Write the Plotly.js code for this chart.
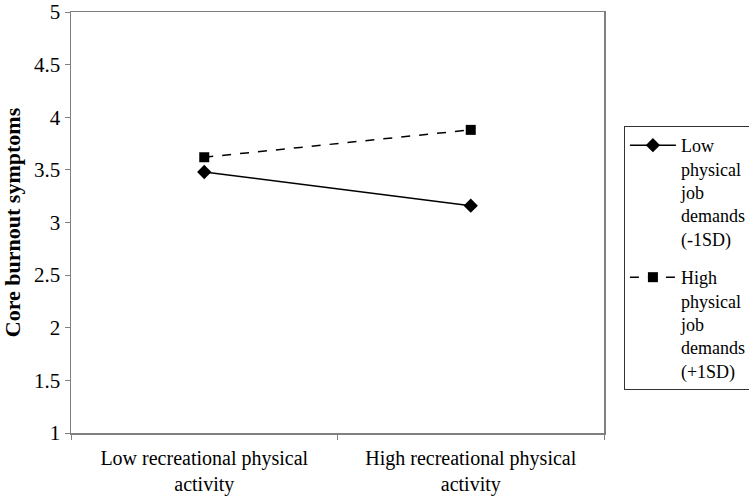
<!DOCTYPE html>
<html>
<head>
<meta charset="utf-8">
<script src="https://cdn.plot.ly/plotly-3.0.1.min.js"></script>
<style>html,body{margin:0;padding:0;background:#fff;}#chart{width:749px;height:496px;}</style>
</head>
<body>
<div id="chart"></div>
<script>
const categories = ["Low recreational physical<br>activity", "High recreational physical<br>activity"];
const lowDemands = [3.48, 3.16];
const highDemands = [3.62, 3.88];
const seriesNames = ["Low<br>physical<br>job<br>demands<br>(-1SD)", "High<br>physical<br>job<br>demands<br>(+1SD)"];
const yTicks = [1, 1.5, 2, 2.5, 3, 3.5, 4, 4.5, 5];

const fontFam = "Liberation Serif";

const traces = [
  {
    x: categories, y: lowDemands, name: seriesNames[0], legendgroup: "a", type: "scatter", mode: "lines+markers",
    line: {color: "#000", width: 1.5},
    marker: {symbol: "diamond", size: 11, color: "#000"}
  },
  {
    x: categories, y: highDemands, name: seriesNames[1], legendgroup: "b", type: "scatter", mode: "lines+markers",
    line: {color: "#000", width: 1.5, dash: "dash"},
    marker: {symbol: "square", size: 10, color: "#000"}
  }
];

const layout = {
  width: 749, height: 496,
  margin: {l: 71, r: 145, t: 12, b: 63, autoexpand: false},
  paper_bgcolor: "#fff", plot_bgcolor: "#fff",
  font: {family: fontFam, size: 20, color: "#000"},
  showlegend: true,
  legend: {
    xref: "container", yref: "container",
    x: 0.833, y: 0.746, xanchor: "left", yanchor: "top",
    bordercolor: "#333", borderwidth: 1, valign: "top",
    font: {family: fontFam, size: 18, color: "#000"},
    tracegroupgap: 12, itemwidth: 46, maxheight: 450
  },
  xaxis: {
    type: "category", range: [-0.5, 1.5],
    showline: true, linecolor: "#808080", linewidth: 1.5, mirror: true,
    ticks: "outside", tickson: "boundaries", ticklen: 5, tickcolor: "#808080",
    ticklabelstandoff: 6,
    showgrid: false, zeroline: false,
    tickfont: {family: fontFam, size: 20, color: "#000"}
  },
  yaxis: {
    range: [1, 5], tickvals: yTicks, ticktext: yTicks.map(String),
    showline: true, linecolor: "#808080", linewidth: 1.5, mirror: true,
    ticks: "outside", ticklen: 5, tickcolor: "#808080",
    showgrid: false, zeroline: false,
    tickfont: {family: fontFam, size: 21, color: "#000"},
    title: {text: "<b>Core burnout symptoms</b>", font: {family: fontFam, size: 22, color: "#000"}, standoff: 9}
  }
};

Plotly.newPlot("chart", traces, layout, {displayModeBar: false, staticPlot: true});
</script>
</body>
</html>
